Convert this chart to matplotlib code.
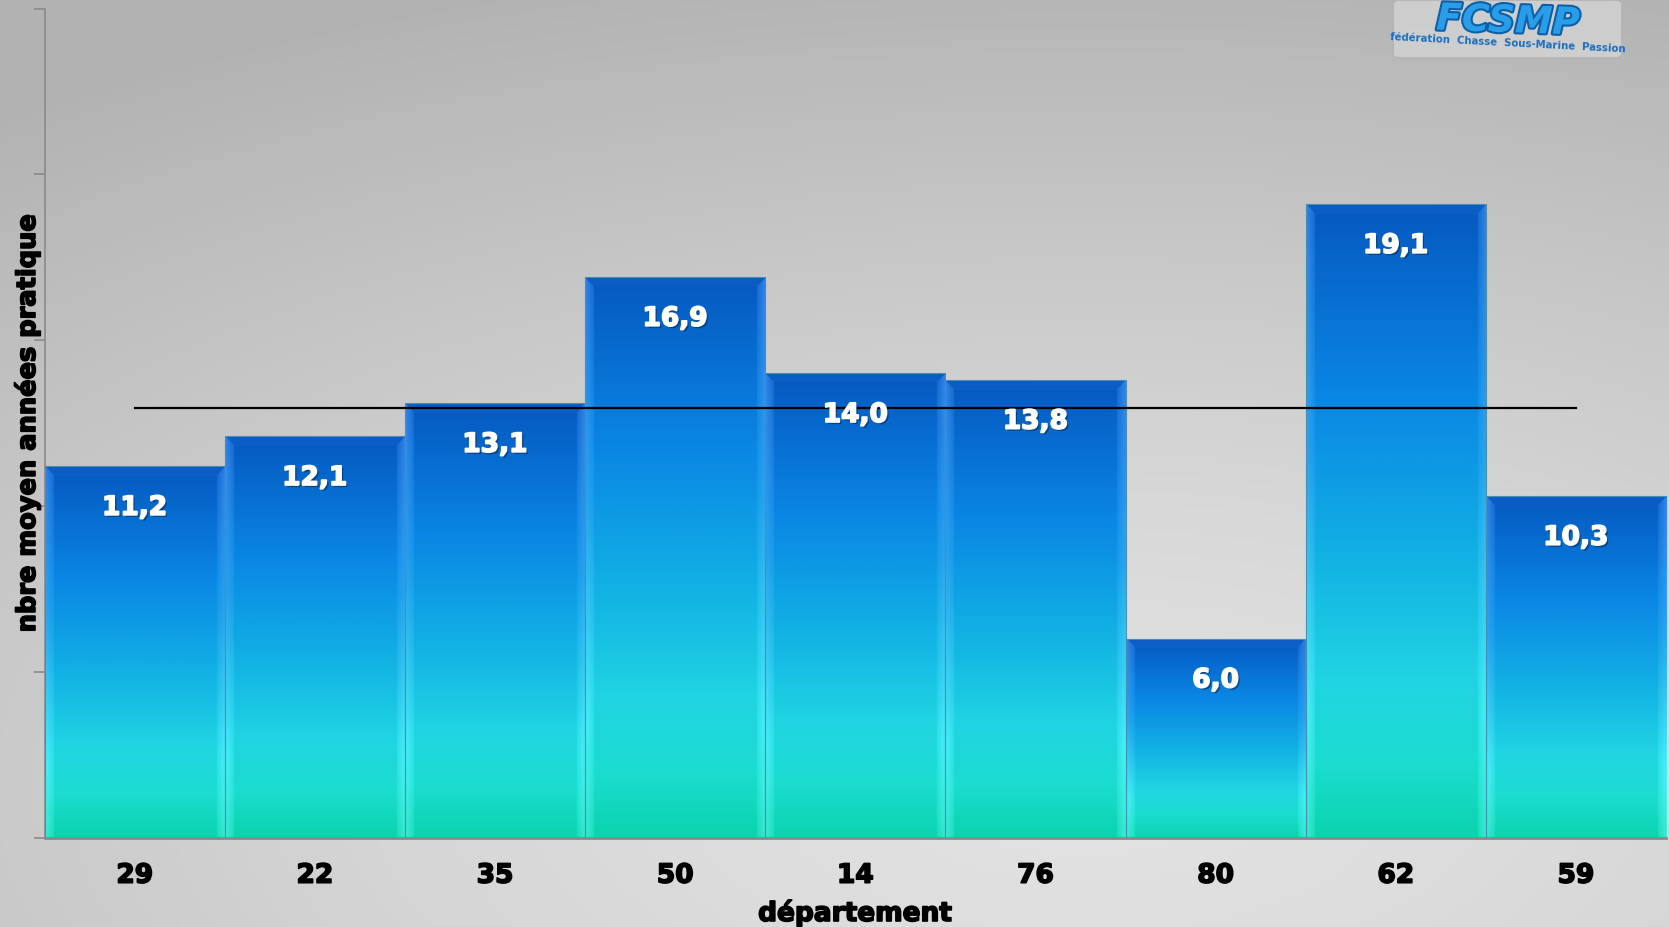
import numpy as np
import matplotlib.pyplot as plt
import matplotlib.patheffects as pe
from matplotlib.patches import FancyBboxPatch
from matplotlib.colors import LinearSegmentedColormap, to_rgb

# data
departements = ['29', '22', '35', '50', '14', '76', '80', '62', '59']
annees = [11.2, 12.1, 13.1, 16.9, 14.0, 13.8, 6.0, 19.1, 10.3]
valeur_labels = ['11,2', '12,1', '13,1', '16,9', '14,0', '13,8', '6,0', '19,1', '10,3']
y_ticks = [0, 5, 10, 15, 20, 25]

W, H = 1669, 927
fig = plt.figure(figsize=(W / 100, H / 100), dpi=100)

# grey radial background
bg = fig.add_axes([0, 0, 1, 1], zorder=-10)
gx, gy = np.meshgrid(np.linspace(0, 1, 400), np.linspace(0, 1, 230))
r = np.sqrt(((gx - 0.65) * 1.0) ** 2 + ((gy - 0.85) * 1.2) ** 2)
bg_cmap = LinearSegmentedColormap.from_list('bg', ['#e4e4e4', '#d8d8d8', '#c6c6c6', '#b2b2b2'])
bg.imshow(r, cmap=bg_cmap, aspect='auto', extent=[0, 1, 0, 1], origin='upper', vmin=0, vmax=1.1)
bg.axis('off')

ax = fig.add_axes([44.7 / W, 1 - 837.7 / H, (1666 - 44.7) / W, (837.7 - 8.5) / H])
ax.patch.set_alpha(0)

x = np.arange(len(departements))
bars = ax.bar(x, annees, width=1.0, facecolor='none', edgecolor='#4a8fb0', linewidth=0.8, zorder=3)

ax.set_xlim(-0.5, len(departements) - 0.5)
ax.set_ylim(0, 25)

# bar gradient (top -> bottom)
stops = [(0.0, '#0658c0'), (0.3, '#0a86e4'), (0.55, '#12b0e4'),
         (0.75, '#20d4e2'), (0.88, '#1cdcd0'), (1.0, '#0ad4ae')]
ts = np.array([s[0] for s in stops])
cols = np.array([to_rgb(s[1]) for s in stops])
lstops = [(0.0, '#3a8cf0'), (0.4, '#30a8f4'), (0.8, '#50f6ff'), (1.0, '#40f0d8')]
lts = np.array([s[0] for s in lstops])
lcols = np.array([to_rgb(s[1]) for s in lstops])

def grad(t, tt, cc):
    return np.stack([np.interp(t, tt, cc[:, k]) for k in range(3)], axis=-1)

bev_x = 0.05   # bar-width fraction
bev_y = 0.28   # data units
for b in bars:
    x0, w, h = b.get_x(), b.get_width(), b.get_height()
    ny, nx = 500, 160
    yy = np.linspace(h, 0, ny)[:, None] * np.ones((1, nx))
    xx = np.ones((ny, 1)) * np.linspace(0, 1, nx)[None, :]
    t = 1 - yy / h
    img = grad(t, ts, cols)
    light = grad(t, lts, lcols)
    dx = np.minimum(xx, 1 - xx)
    dy = h - yy
    side = (dx < bev_x) & (dx / bev_x * bev_y < dy + 1e-9)
    top = (dy < bev_y) & ~side
    mix = (np.clip(1 - dx / bev_x, 0, 1) * 0.6 + 0.25)[..., None]
    img = np.where(side[..., None], img * (1 - mix) + light * mix, img)
    img = np.where(top[..., None], img * 0.85 + np.array(to_rgb('#2a70d8')) * 0.15, img)
    im = ax.imshow(img, extent=[x0, x0 + w, 0, h], aspect='auto', zorder=2, interpolation='bilinear')
    im.set_clip_path(b)

# mean line
moy = np.mean(annees)
ax.plot([x[0], x[-1]], [moy, moy], color='black', lw=1.6, zorder=5)

# value labels
for xi, v, lab in zip(x, annees, valeur_labels):
    ax.annotate(lab, (xi, v), xytext=(0, -30), textcoords='offset points',
                ha='center', va='center', color='white', fontsize=19, fontweight='bold',
                path_effects=[pe.withSimplePatchShadow(offset=(1.5, -1.5), shadow_rgbFace='#0a2a50', alpha=0.6),
                              pe.withStroke(linewidth=1.2, foreground='white')],
                zorder=6)

for s in ['top', 'right']:
    ax.spines[s].set_visible(False)
ax.spines['left'].set_color('#8a8a8a')
ax.spines['bottom'].set_color('#8a8a8a')
ax.spines['bottom'].set_linewidth(2)
ax.spines['left'].set_linewidth(1.2)

bold = [pe.withStroke(linewidth=1.2, foreground='black')]
ax.set_yticks(y_ticks)
ax.set_yticklabels([])
ax.tick_params(axis='y', direction='out', length=8, color='#8a8a8a', width=1.2)
ax.set_xticks(x)
ax.set_xticklabels(departements, fontsize=19, fontweight='bold')
for t in ax.get_xticklabels():
    t.set_path_effects(bold)
ax.tick_params(axis='x', length=0, pad=18)

fig.text(27 / W, 1 - 423 / H, 'nbre moyen années pratique', rotation=90, ha='center', va='center',
         fontsize=18.5, fontweight='bold', path_effects=bold)
fig.text(855 / W, 1 - 913 / H, 'département', ha='center', va='center', fontsize=19, fontweight='bold',
         path_effects=bold)

# logo
fig.patches.append(FancyBboxPatch((1400 / W, 1 - 54 / H), 215 / W, 50 / H,
                                  boxstyle='round,pad=0.004', transform=fig.transFigure,
                                  facecolor='#d8d8d8', edgecolor='#b0b0b0', lw=1, alpha=0.7, zorder=1))
fig.text(1508 / W, 1 - 22 / H, 'FCSMP', ha='center', va='center', fontsize=27, fontweight='bold',
         fontstyle='italic', color='#2a9de8', rotation=-2, zorder=2,
         path_effects=[pe.withStroke(linewidth=3, foreground='#0d5fa8')])
fig.text(1508 / W, 1 - 43 / H, 'fédération  Chasse  Sous-Marine  Passion', ha='center', va='center',
         fontsize=7.3, fontweight='bold', color='#1a6ec0', rotation=-3, zorder=2)

fig.savefig('out.png', dpi=100)
